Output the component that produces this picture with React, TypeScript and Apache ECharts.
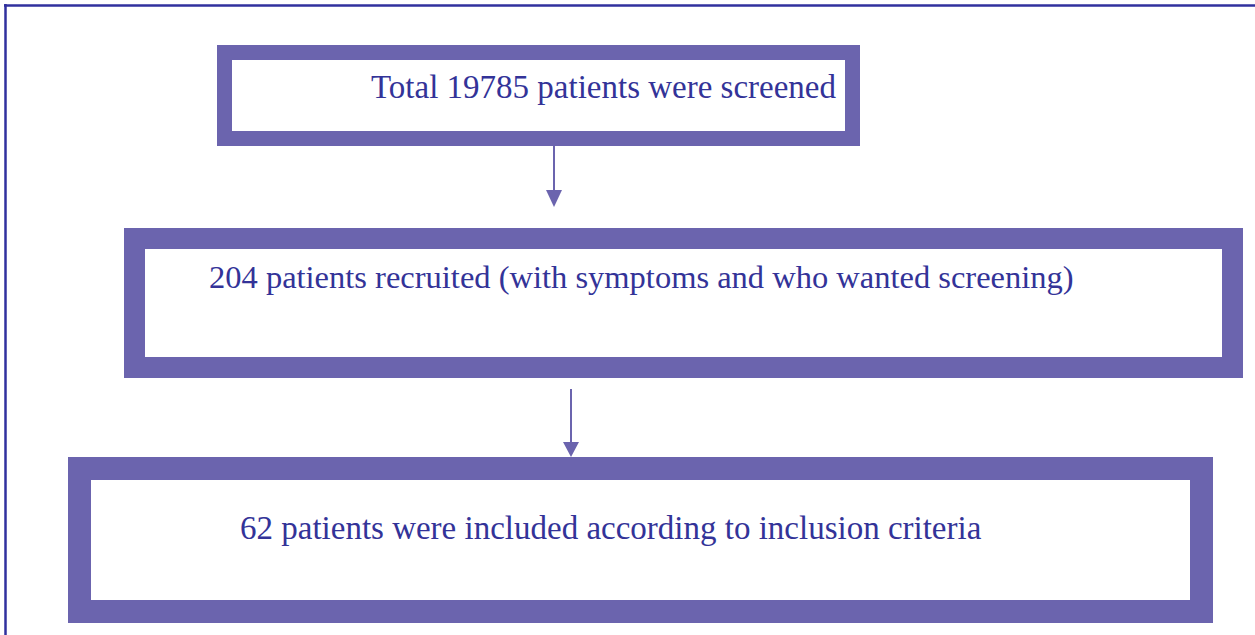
import React, { useEffect, useRef } from "react";
import * as echarts from "echarts";

const stepLabels: string[] = [
  "Total 19785 patients were screened",
  "204 patients recruited (with symptoms and who wanted screening)",
  "62 patients were included according to inclusion criteria",
];

const BOX_COLOR = "#6b64ae";
const TEXT_COLOR = "#333398";
const FRAME_COLOR = "#30309e";
const FONT = '"Liberation Serif", "Times New Roman", serif';

// layout of boxes: outer rect, border thickness, text anchor
const boxLayout = [
  { x: 217, y: 45, w: 643, h: 101, b: 15, tx: 371, ty: 87, size: 33 },
  { x: 124, y: 228, w: 1119, h: 150, b: 21, tx: 209, ty: 277, size: 32.5 },
  { x: 68, y: 457, w: 1145, h: 166, b: 23, tx: 240, ty: 528, size: 33 },
];

const arrowLayout = [
  { x: 554, y1: 146, y2: 192, tip: 207 },
  { x: 571, y1: 389, y2: 444, tip: 457 },
];

export default function App() {
  const ref = useRef<HTMLDivElement>(null);
  useEffect(() => {
    if (!ref.current) return;
    const chart = echarts.init(ref.current, undefined, { renderer: "svg" });
    const elements: any[] = [];
    // frame
    elements.push({
      type: "line",
      shape: { x1: 4, y1: 5.5, x2: 1255, y2: 5.5 },
      style: { stroke: FRAME_COLOR, lineWidth: 2.5 },
    });
    elements.push({
      type: "line",
      shape: { x1: 5.5, y1: 4, x2: 5.5, y2: 635 },
      style: { stroke: FRAME_COLOR, lineWidth: 2.5 },
    });
    boxLayout.forEach((b, i) => {
      elements.push({
        type: "rect",
        shape: { x: b.x, y: b.y, width: b.w, height: b.h },
        style: { fill: BOX_COLOR },
      });
      elements.push({
        type: "rect",
        shape: { x: b.x + b.b, y: b.y + b.b, width: b.w - 2 * b.b, height: b.h - 2 * b.b },
        style: { fill: "#ffffff" },
      });
      elements.push({
        type: "text",
        x: b.tx,
        y: b.ty,
        style: {
          text: stepLabels[i],
          fill: TEXT_COLOR,
          font: `${b.size}px ${FONT}`,
          align: "left",
          verticalAlign: "middle",
        },
      });
    });
    arrowLayout.forEach((a) => {
      elements.push({
        type: "line",
        shape: { x1: a.x, y1: a.y1, x2: a.x, y2: a.y2 },
        style: { stroke: BOX_COLOR, lineWidth: 2 },
      });
      elements.push({
        type: "polygon",
        shape: { points: [[a.x - 8, a.y2 - 2], [a.x + 8, a.y2 - 2], [a.x, a.tip]] },
        style: { fill: BOX_COLOR },
      });
    });
    chart.setOption({
      animation: false,
      backgroundColor: "#ffffff",
      graphic: { elements },
    });
    return () => chart.dispose();
  }, []);
  return (
    <div
      ref={ref}
      style={{ position: "fixed", left: 0, top: 0, width: 1255, height: 635 }}
    />
  );
}
